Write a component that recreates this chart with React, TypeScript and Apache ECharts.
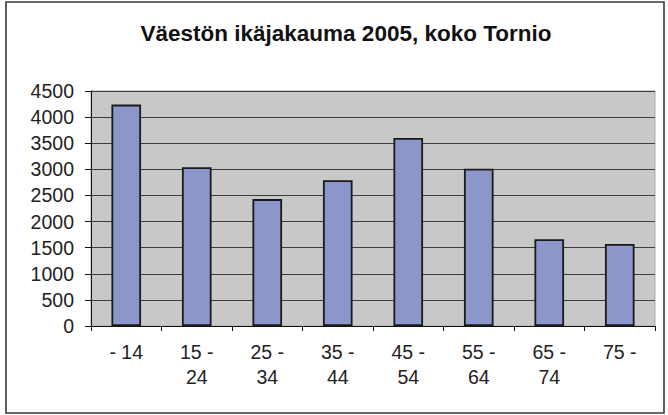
import React, { useEffect, useRef } from "react";
import * as echarts from "echarts";

const titleText = "Väestön ikäjakauma 2005, koko Tornio";
const categories = ["- 14", "15 - 24", "25 - 34", "35 - 44", "45 - 54", "55 - 64", "65 - 74", "75 -"];
const population = [4240, 3040, 2430, 2790, 3600, 3010, 1660, 1570];
const yMin = 0;
const yMax = 4500;
const yStep = 500;

export default function App() {
  const ref = useRef<HTMLDivElement>(null);
  useEffect(() => {
    if (!ref.current) return;
    const chart = echarts.init(ref.current, undefined, { renderer: "svg" });
    const font = "Arial, 'Liberation Sans', sans-serif";
    chart.setOption({
      animation: false,
      backgroundColor: "#ffffff",
      title: {
        text: titleText,
        left: 341,
        textAlign: "center",
        top: 17,
        textStyle: { fontFamily: font, fontSize: 22.5, fontWeight: "bold", color: "#111" },
      },
      graphic: [
        {
          type: "rect",
          shape: { x: 6, y: 2, width: 658, height: 411 },
          style: { fill: "none", stroke: "#3a3a3a", lineWidth: 1.6 },
          silent: true,
          z: 100,
        },
      ],
      grid: {
        left: 91,
        right: 13,
        top: 91,
        bottom: 89,
        show: true,
        backgroundColor: "#c8c8c8",
        borderColor: "#a8a8a8",
        borderWidth: 1,
      },
      xAxis: {
        type: "category",
        data: categories,
        axisLine: { show: true, lineStyle: { color: "#111", width: 1 } },
        axisTick: { show: true, alignWithLabel: false, length: 5, lineStyle: { color: "#111" } },
        axisLabel: {
          interval: 0,
          margin: 13,
          fontFamily: font,
          fontSize: 19.5,
          lineHeight: 25,
          color: "#222",
          formatter: (v: string) => v.replace(" - ", " -\n"),
        },
        splitLine: { show: false },
      },
      yAxis: {
        type: "value",
        min: yMin,
        max: yMax,
        interval: yStep,
        axisLine: { show: true, lineStyle: { color: "#111", width: 1 } },
        axisTick: { show: true, length: 6, lineStyle: { color: "#111" } },
        axisLabel: {
          margin: 17,
          fontFamily: font,
          fontSize: 19.5,
          color: "#222",
          formatter: (v: number) => String(v),
        },
        splitLine: { show: true, lineStyle: { color: "#3c3c3c", width: 1 } },
      },
      series: [
        {
          type: "bar",
          data: population,
          barCategoryGap: "58%",
          itemStyle: { color: "#8c96ca", borderColor: "#1a1a1a", borderWidth: 1.8 },
        },
      ],
    });
    return () => chart.dispose();
  }, []);
  return (
    <div
      ref={ref}
      style={{ position: "fixed", left: 0, top: 0, width: 668, height: 415 }}
    />
  );
}
